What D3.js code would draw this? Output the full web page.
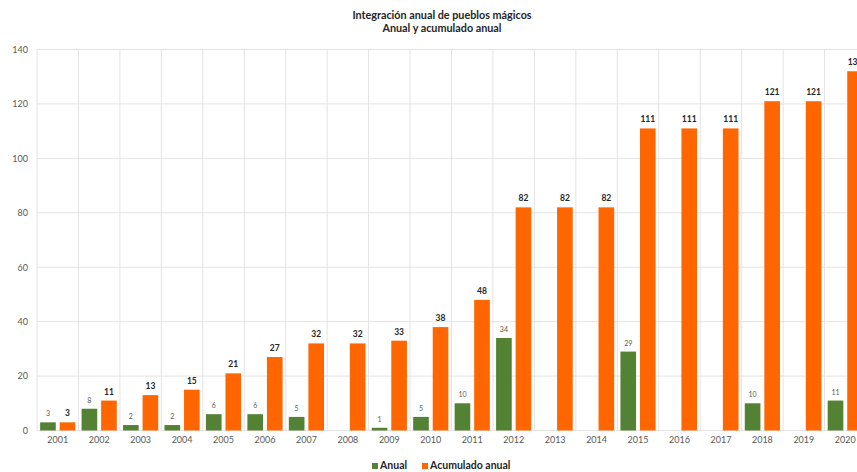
<!DOCTYPE html>
<html><head><meta charset="utf-8">
<script src="https://cdn.jsdelivr.net/npm/d3@7/dist/d3.min.js"></script>
<style>body{margin:0;background:#fff;}svg{display:block;font-family:Lato,"Open Sans",sans-serif;}</style>
</head><body>
<svg id="c" width="857" height="472"></svg>
<script>
const years = ["2001","2002","2003","2004","2005","2006","2007","2008","2009","2010","2011","2012","2013","2014","2015","2016","2017","2018","2019","2020"];
const anual = [3,8,2,2,6,6,5,0,1,5,10,34,0,0,29,0,0,10,0,11];
const acumulado = [3,11,13,15,21,27,32,32,33,38,48,82,82,82,111,111,111,121,121,132];
const yTicks = [0,20,40,60,80,100,120,140];
const seriesNames = ["Anual","Acumulado anual"];
const colors = ["#548235","#ff6600"];

const svg = d3.select("#c");
const left = 37, bandW = 41.45;
const x = d3.scaleBand().domain(years).range([left, left + bandW*years.length]).paddingInner(0).paddingOuter(0);
const inner = d3.scaleBand().domain([0,1]).range([0, x.bandwidth()]).paddingInner(0.2).paddingOuter(0.16);
const y = d3.scaleLinear().domain([0,140]).range([430.5, 49.5]);

// horizontal gridlines
svg.append("g").selectAll("line").data(yTicks).join("line")
  .attr("x1", left).attr("x2", 900).attr("y1", d=>y(d)).attr("y2", d=>y(d))
  .attr("stroke", "#e3e3e3").attr("stroke-width", 1);
// vertical gridlines
svg.append("g").selectAll("line").data(years).join("line")
  .attr("x1", d=>x(d)).attr("x2", d=>x(d)).attr("y1", y(140)).attr("y2", y(0))
  .attr("stroke", "#e3e3e3").attr("stroke-width", 1);

// y axis labels
const yAxis = d3.axisLeft(y).tickValues(yTicks).tickSize(0).tickPadding(0);
const ya = svg.append("g").attr("transform", `translate(${left-9},0)`).call(yAxis);
ya.select(".domain").remove();
ya.selectAll("text").attr("fill","#595959").style("font-size","9px").style("font-family","Lato");

// x axis labels
const xAxis = d3.axisBottom(x).tickSize(0).tickPadding(0);
const xa = svg.append("g").attr("transform", `translate(0,${y(0)+6})`).call(xAxis);
xa.select(".domain").remove();
xa.selectAll("text").attr("fill","#595959").style("font-size","9px").style("font-family","Lato");

const series = [anual, acumulado];
series.forEach((vals, si) => {
  const g = svg.append("g");
  g.selectAll("rect").data(vals.map((v,i)=>({v, yr: years[i]}))).join("rect")
    .attr("x", d => x(d.yr) + inner(si))
    .attr("width", inner.bandwidth())
    .attr("y", d => y(d.v))
    .attr("height", d => y(0) - y(d.v))
    .attr("fill", colors[si]);
  g.selectAll("text").data(vals.map((v,i)=>({v, yr: years[i]})).filter(d => d.v > 0)).join("text")
    .attr("x", d => x(d.yr) + inner(si) + inner.bandwidth()/2)
    .attr("y", d => y(d.v) - 6)
    .attr("text-anchor","middle")
    .attr("fill", si === 0 ? "#595959" : "#262626")
    .style("font-size", si === 0 ? "7px" : "8.5px")
    .style("font-weight", si === 0 ? "400" : "700")
    .text(d => d.v);
});

// title
const title = svg.append("text").attr("text-anchor","middle").attr("fill","#262626")
  .style("font-size","10.8px").style("font-weight","700");
title.append("tspan").attr("x",442).attr("y",19).text("Integración anual de pueblos mágicos");
title.append("tspan").attr("x",442).attr("y",32).text("Anual y acumulado anual");

// legend
const leg = svg.append("g");
const legX = [372, 422];
seriesNames.forEach((n, i) => {
  leg.append("rect").attr("x", legX[i]).attr("y", 463).attr("width", 6).attr("height", 6).attr("fill", colors[i]);
  leg.append("text").attr("x", legX[i] + 8).attr("y", 469).attr("fill","#262626")
    .style("font-size","10.5px").style("font-weight","700").text(n);
});
</script>
</body></html>
